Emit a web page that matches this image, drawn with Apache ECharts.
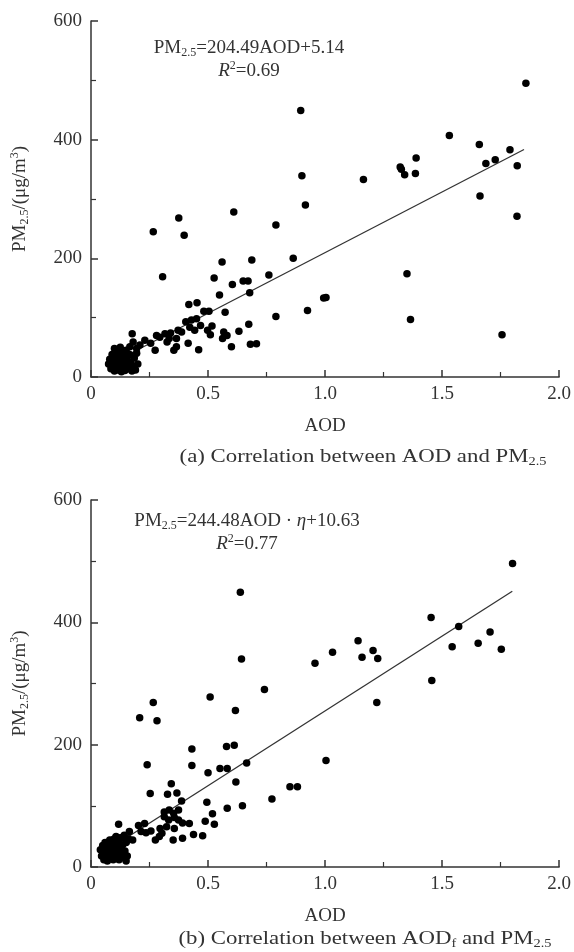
<!DOCTYPE html>
<html>
<head>
<meta charset="utf-8">
<script src="https://cdn.jsdelivr.net/npm/echarts@6/dist/echarts.min.js"></script>
<style>
html,body{margin:0;padding:0;background:#fff;}
#chart{width:574px;height:952px;}
</style>
</head>
<body>
<div id="chart"></div>
<script>
// ---- Data ----
// (a) AOD vs PM2.5
const aodA = [1.858,0.896,1.531,1.659,1.790,1.389,1.687,1.727,1.821,1.321,1.326,1.340,1.386,0.901,1.164,1.662,0.916,0.790,1.820,0.864,0.760,1.350,0.994,1.004,0.790,0.925,1.365,1.756,
  0.610,0.375,0.266,0.398,0.560,0.687,0.306,0.526,0.604,0.650,0.671,0.678,0.549,0.418,0.453,0.482,0.504,0.573,0.405,0.429,0.451,0.422,0.443,0.468,0.387,0.498,0.517,0.510,0.567,0.581,0.562,0.632,0.674,0.600,0.681,0.707,0.460,0.415,0.365,0.372,0.354,0.365,0.325,0.334,0.316,0.340,0.294,0.274,0.280,0.255,0.230,0.209,0.195,0.176,0.180,0.166,
  0.075,0.080,0.085,0.090,0.090,0.095,0.100,0.100,0.105,0.110,0.110,0.115,0.120,0.120,0.125,0.130,0.130,0.135,0.140,0.140,0.145,0.150,0.150,0.155,0.160,0.165,0.170,0.175,0.180,0.185,0.190,0.195,0.200,0.100,0.125];
const pmA = [495,449,407,392,383,369,360,366,356,354,350,341,343,339,333,305,290,256,271,200,172,174,133,134,102,112,97,71,
  278,268,245,239,194,197,169,167,156,162,162,142,138,122,125,111,111,109,93,96,98,84,79,87,76,79,86,71,76,70,65,77,89,51,55,56,46,57,65,79,45,51,59,65,73,74,67,45,70,57,62,54,48,73,59,51,
  22,30,14,38,20,28,10,34,18,44,26,12,36,20,30,9,42,16,26,36,11,20,45,30,14,38,24,10,18,32,12,40,22,48,50];

// (b) AOD_f vs PM2.5
const aodB = [1.801,1.453,1.571,1.705,1.654,1.543,1.753,1.141,1.205,1.032,1.158,1.225,0.957,1.456,1.221,1.004,0.850,0.882,0.773,0.638,0.643,0.741,0.509,0.266,0.617,0.208,0.282,0.431,0.579,0.612,0.240,0.431,0.551,0.582,0.665,0.500,0.619,0.343,0.253,0.327,0.367,0.387,0.495,0.582,0.647,0.519,0.488,0.527,0.313,0.334,0.353,0.374,0.313,0.332,0.356,0.374,0.391,0.420,0.323,0.356,0.295,0.303,0.351,0.391,0.438,0.477,0.275,0.292,0.256,0.235,0.214,0.203,0.229,0.118,0.164,0.142,0.128,0.107,0.092,0.178,0.150,
  0.040,0.045,0.050,0.050,0.055,0.060,0.060,0.065,0.070,0.070,0.075,0.080,0.080,0.085,0.090,0.090,0.095,0.100,0.100,0.105,0.110,0.110,0.115,0.120,0.120,0.125,0.130,0.135,0.140,0.145,0.150,0.150,0.160,0.155];
const pmB = [496,408,393,384,366,360,356,370,354,351,343,341,333,305,269,174,131,131,111,449,340,290,278,269,256,244,239,193,197,199,167,166,161,161,170,154,139,136,120,119,121,108,106,96,100,87,75,70,90,93,88,93,82,77,81,77,72,71,66,63,63,55,44,47,53,51,44,50,59,56,58,68,71,70,58,52,47,50,44,44,41,
  28,18,35,24,12,30,40,20,10,34,26,16,44,30,22,38,12,30,46,20,36,14,42,28,12,48,20,36,15,26,10,40,46,18];

// Regression lines (as printed in the figure)
const fitA = {slope: 204.49, intercept: 5.14, xRange: [0.08, 1.85]};
const fitB = {slope: 244.48, intercept: 10.63, xRange: [0.05, 1.80]};

const xTicks = [0, 0.5, 1.0, 1.5, 2.0];
const yTicks = [0, 200, 400, 600];

// ---- Chart ----
const FONT = "'Liberation Serif','Times New Roman',serif";
const TXT = '#333';
const pts = (xs, ys) => xs.map((x, i) => [x, ys[i]]);
const lineOf = f => f.xRange.map(x => [x, f.slope * x + f.intercept]);

const richBase = (fs) => ({
  a: {fontSize: fs, fontFamily: FONT, color: TXT, fill: TXT},
  i: {fontSize: fs, fontFamily: FONT, fontStyle: 'italic', color: TXT, fill: TXT},
  s: {fontSize: Math.round(fs*0.62), fontFamily: FONT, color: TXT, fill: TXT, padding: [Math.round(fs*0.55),0,0,0]},
  p: {fontSize: Math.round(fs*0.62), fontFamily: FONT, color: TXT, fill: TXT, padding: [0,0,Math.round(fs*0.55),0]}
});

function xAxisOf(gi) {
  return {
    gridIndex: gi, type: 'value', min: 0, max: 2, interval: 0.5,
    name: 'AOD', nameLocation: 'middle', nameGap: 40,
    nameTextStyle: {fontSize: 19, fontFamily: FONT, color: TXT},
    axisLine: {show: true, lineStyle: {color: '#333', width: 1.5}},
    axisTick: {show: true, inside: true, length: 7, lineStyle: {color: '#333', width: 1.5}},
    minorTick: {show: true, splitNumber: 2, length: 5, lineStyle: {color: '#333', width: 1.2}},
    splitLine: {show: false},
    axisLabel: {fontSize: 19, fontFamily: FONT, color: TXT, margin: 8,
      formatter: v => (v === 0 ? '0' : v.toFixed(1))}
  };
}
function yAxisOf(gi) {
  return {
    gridIndex: gi, type: 'value', min: 0, max: 600, interval: 200,
    name: '{a|PM}{s|2.5}{a|/(μg/m}{p|3}{a|)}', nameLocation: 'middle', nameGap: 60, nameRotate: 90,
    nameTextStyle: {rich: richBase(19)},
    axisLine: {show: true, lineStyle: {color: '#333', width: 1.5}},
    axisTick: {show: true, inside: true, length: 7, lineStyle: {color: '#333', width: 1.5}},
    minorTick: {show: true, splitNumber: 2, length: 5, lineStyle: {color: '#333', width: 1.2}},
    splitLine: {show: false},
    axisLabel: {fontSize: 19, fontFamily: FONT, color: TXT, margin: 9}
  };
}

function textEl(x, y, text, fs, sx) {
  return {
    type: 'text', x: x, y: y, scaleX: sx || 1,
    style: {text: text, align: 'center', verticalAlign: 'middle', rich: richBase(fs),
      fontSize: fs, fontFamily: FONT, fill: TXT}
  };
}

const chart = echarts.init(document.getElementById('chart'), null, {renderer: 'canvas'});
chart.setOption({
  backgroundColor: '#fff',
  animation: false,
  grid: [
    {left: 91, right: 14, top: 21, height: 356},
    {left: 91, right: 14, top: 500, height: 367}
  ],
  xAxis: [xAxisOf(0), xAxisOf(1)],
  yAxis: [yAxisOf(0), yAxisOf(1)],
  series: [
    {type: 'scatter', xAxisIndex: 0, yAxisIndex: 0, data: pts(aodA, pmA), symbolSize: 7.5,
      itemStyle: {color: '#000', opacity: 1}, z: 3},
    {type: 'line', xAxisIndex: 0, yAxisIndex: 0, data: lineOf(fitA), symbol: 'none',
      lineStyle: {color: '#333', width: 1.3}, z: 2},
    {type: 'scatter', xAxisIndex: 1, yAxisIndex: 1, data: pts(aodB, pmB), symbolSize: 7.5,
      itemStyle: {color: '#000', opacity: 1}, z: 3},
    {type: 'line', xAxisIndex: 1, yAxisIndex: 1, data: lineOf(fitB), symbol: 'none',
      lineStyle: {color: '#333', width: 1.3}, z: 2}
  ],
  graphic: [
    textEl(249, 48, '{a|PM}{s|2.5}{a|=204.49AOD+5.14}', 19),
    textEl(249, 71, '{i|R}{p|2}{a|=0.69}', 19),
    textEl(247, 521, '{a|PM}{s|2.5}{a|=244.48AOD · }{i|η}{a|+10.63}', 19),
    textEl(247, 544, '{i|R}{p|2}{a|=0.77}', 19),
    textEl(363, 457, '{a|(a) Correlation between AOD and PM}{s|2.5}', 19, 1.2),
    textEl(365, 939, '{a|(b) Correlation between AOD}{s|f}{a| and PM}{s|2.5}', 19, 1.2)
  ]
});
</script>
</body>
</html>
